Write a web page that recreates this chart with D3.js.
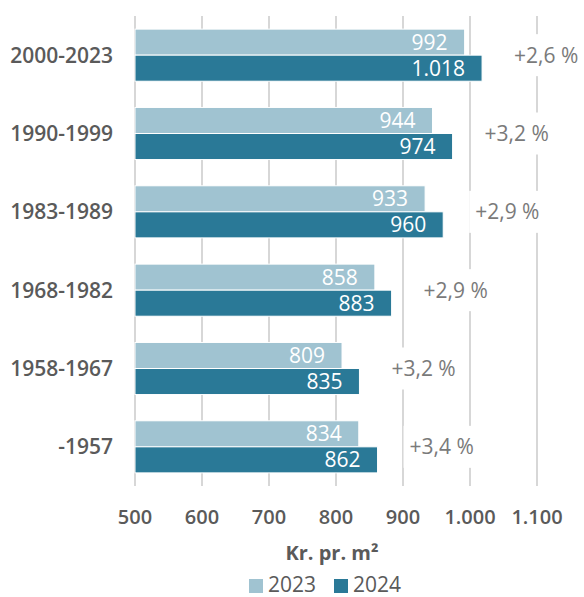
<!DOCTYPE html>
<html><head><meta charset="utf-8">
<script src="https://cdn.jsdelivr.net/npm/d3@7"></script>
<style>
html,body{margin:0;padding:0;background:#fff;}
svg{display:block;font-family:"Open Sans",sans-serif;}
</style></head>
<body>
<svg id="chart" width="584" height="597"></svg>
<script>
const categories = ["2000-2023","1990-1999","1983-1989","1968-1982","1958-1967","-1957"];
const seriesNames = ["2023","2024"];
const values2023 = [992,944,933,858,809,834];
const values2024 = [1018,974,960,883,835,862];
const changeLabels = ["+2,6 %","+3,2 %","+2,9 %","+2,9 %","+3,2 %","+3,4 %"];
const xTicks = [500,600,700,800,900,1000,1100];
const tickLabels = ["500","600","700","800","900","1.000","1.100"];
const valueLabels2023 = ["992","944","933","858","809","834"];
const valueLabels2024 = ["1.018","974","960","883","835","862"];
const axisTitle = "Kr. pr. m²";

const colors = {"2023":"#a0c3d1","2024":"#2a7997"};
const textGray = "#5a5a5a";
const pctGray = "#7a7a7a";

const svg = d3.select("#chart");
const x = d3.scaleLinear().domain([500,1100]).range([135,537]);
const y = d3.scaleBand().domain(categories).range([16,486]).paddingInner(0.335).paddingOuter(0.1675);
const ySub = d3.scaleBand().domain(seriesNames).range([0,y.bandwidth()]);

// gridlines
svg.append("g").selectAll("line").data(xTicks).join("line")
  .attr("x1",d=>x(d)).attr("x2",d=>x(d))
  .attr("y1",16).attr("y2",486)
  .attr("stroke","#bdbdbd").attr("stroke-width",1.2);

// percent labels with white background hiding gridlines
const pctItems = categories.map((c,i)=>({c,i,lab:changeLabels[i],v:values2024[i]}));
svg.append("g").selectAll("g").data(pctItems).join("g").each(function(d){
  const g = d3.select(this);
  const t = g.append("text")
    .attr("x", x(d.v)+32)
    .attr("y", y(d.c)+y.bandwidth()/2)
    .attr("dy","0.35em")
    .attr("font-size",21)
    .attr("fill",pctGray)
    .text(d.lab);
  const bb = t.node().getBBox();
  g.insert("rect","text")
    .attr("x",bb.x-6).attr("y",y(d.c)+y.bandwidth()/2-21)
    .attr("width",bb.width+12).attr("height",42)
    .attr("fill","#fff");
});

// bars
const rows = categories.map((c,i)=>({c, vals:[
  {s:"2023",v:values2023[i],lab:valueLabels2023[i]},
  {s:"2024",v:values2024[i],lab:valueLabels2024[i]}]}));
const groups = svg.append("g").selectAll("g").data(rows).join("g")
  .attr("transform",d=>`translate(0,${y(d.c)})`);
groups.selectAll("rect").data(d=>d.vals).join("rect")
  .attr("x",x(500))
  .attr("y",d=>ySub(d.s))
  .attr("width",d=>x(d.v)-x(500))
  .attr("height",ySub.bandwidth())
  .attr("fill",d=>colors[d.s])
  .attr("stroke","#fff").attr("stroke-width",1);
groups.selectAll("text").data(d=>d.vals).join("text")
  .attr("x",d=>x(d.v)-17)
  .attr("y",d=>ySub(d.s)+ySub.bandwidth()/2)
  .attr("dy","0.36em")
  .attr("text-anchor","end")
  .attr("font-size",21)
  .attr("fill","#fff")
  .text(d=>d.lab);

// category labels
svg.append("g").selectAll("text").data(categories).join("text")
  .attr("x",113)
  .attr("y",d=>y(d)+y.bandwidth()/2)
  .attr("dy","0.35em")
  .attr("text-anchor","end")
  .attr("font-size",21)
  .attr("font-weight",600)
  .attr("fill",textGray)
  .text(d=>d);

// x tick labels
svg.append("g").selectAll("text").data(xTicks).join("text")
  .attr("x",d=>x(d))
  .attr("y",524)
  .attr("text-anchor","middle")
  .attr("font-size",20)
  .attr("font-weight",600)
  .attr("fill",textGray)
  .text((d,i)=>tickLabels[i]);

// axis title
svg.append("text")
  .attr("x",(x(500)+x(1100))/2-4).attr("y",560)
  .attr("text-anchor","middle")
  .attr("font-size",20).attr("font-weight",700)
  .attr("fill",textGray)
  .text(axisTitle);

// legend
const leg = svg.append("g");
const legX = [249,334];
seriesNames.forEach((s,i)=>{
  leg.append("rect").attr("x",legX[i]).attr("y",579).attr("width",14).attr("height",14).attr("fill",colors[s]);
  leg.append("text").attr("x",legX[i]+19).attr("y",592)
    .attr("font-size",21).attr("fill",textGray).text(s);
});
</script>
</body></html>
